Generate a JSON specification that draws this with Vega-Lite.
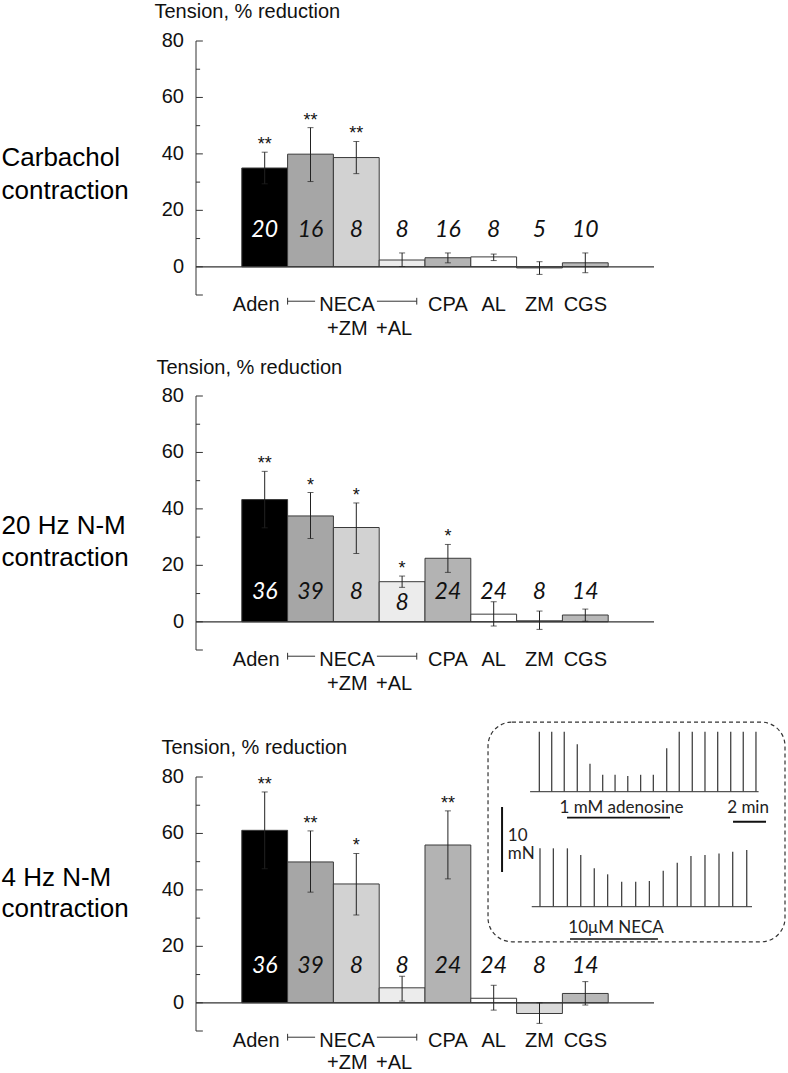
{
  "$schema": "https://vega.github.io/schema/vega-lite/v6.json",
  "autosize": {"type": "none"},
  "padding": {"left": 196, "top": 41, "right": 592, "bottom": 1032},
  "background": "white",
  "config": {"view": {"stroke": null}, "font": "Liberation Sans", "legend": {"disable": true}},
  "datasets": {
    "p1": [
      {"cat": "Aden", "mean": 35.0, "lo": 29.4, "hi": 40.6, "n": "20", "sig": "**"},
      {"cat": "NECA", "mean": 39.9, "lo": 30.2, "hi": 49.3, "n": "16", "sig": "**"},
      {"cat": "NECA+ZM", "mean": 38.7, "lo": 33.0, "hi": 44.4, "n": "8", "sig": "**"},
      {"cat": "NECA+AL", "mean": 2.4, "lo": 0.1, "hi": 4.9, "n": "8", "sig": ""},
      {"cat": "CPA", "mean": 3.2, "lo": 1.4, "hi": 4.9, "n": "16", "sig": ""},
      {"cat": "AL", "mean": 3.5, "lo": 2.2, "hi": 4.5, "n": "8", "sig": ""},
      {"cat": "ZM", "mean": -0.4, "lo": -2.7, "hi": 1.8, "n": "5", "sig": ""},
      {"cat": "CGS", "mean": 1.4, "lo": -2.1, "hi": 4.9, "n": "10", "sig": ""}
    ],
    "p2": [
      {"cat": "Aden", "mean": 43.3, "lo": 33.3, "hi": 53.3, "n": "36", "sig": "**"},
      {"cat": "NECA", "mean": 37.5, "lo": 29.5, "hi": 45.8, "n": "39", "sig": "*"},
      {"cat": "NECA+ZM", "mean": 33.4, "lo": 24.2, "hi": 42.1, "n": "8", "sig": "*"},
      {"cat": "NECA+AL", "mean": 14.2, "lo": 12.2, "hi": 16.2, "n": "8", "sig": "*"},
      {"cat": "CPA", "mean": 22.5, "lo": 17.5, "hi": 27.4, "n": "24", "sig": "*"},
      {"cat": "AL", "mean": 2.7, "lo": -1.5, "hi": 7.1, "n": "24", "sig": ""},
      {"cat": "ZM", "mean": 0.35, "lo": -2.7, "hi": 3.8, "n": "8", "sig": ""},
      {"cat": "CGS", "mean": 2.4, "lo": 0.2, "hi": 4.5, "n": "14", "sig": ""}
    ],
    "p3": [
      {"cat": "Aden", "mean": 61.1, "lo": 47.5, "hi": 74.7, "n": "36", "sig": "**"},
      {"cat": "NECA", "mean": 49.9, "lo": 39.2, "hi": 60.9, "n": "39", "sig": "**"},
      {"cat": "NECA+ZM", "mean": 42.1, "lo": 31.1, "hi": 52.9, "n": "8", "sig": "*"},
      {"cat": "NECA+AL", "mean": 5.3, "lo": 0.6, "hi": 9.4, "n": "8", "sig": ""},
      {"cat": "CPA", "mean": 55.9, "lo": 43.9, "hi": 68.0, "n": "24", "sig": "**"},
      {"cat": "AL", "mean": 1.6, "lo": -2.6, "hi": 6.2, "n": "24", "sig": ""},
      {"cat": "ZM", "mean": -3.8, "lo": -7.3, "hi": 0.0, "n": "8", "sig": ""},
      {"cat": "CGS", "mean": 3.3, "lo": -0.8, "hi": 7.5, "n": "14", "sig": ""}
    ],
    "major": [{"v": -10}, {"v": 0}, {"v": 20}, {"v": 40}, {"v": 60}, {"v": 80}],
    "minor": [{"v": 10}, {"v": 30}, {"v": 50}, {"v": 70}],
    "yline": [{"a": -10, "b": 80}],
    "spikes": [
      {"t": 3.11, "lo": 17.69, "hi": 26.9}, {"t": 3.86, "lo": 17.69, "hi": 26.9}, {"t": 4.62, "lo": 17.69, "hi": 26.9},
      {"t": 5.41, "lo": 17.69, "hi": 24.99}, {"t": 6.18, "lo": 17.69, "hi": 21.99}, {"t": 6.95, "lo": 17.69, "hi": 20.29},
      {"t": 7.70, "lo": 17.69, "hi": 20.29}, {"t": 8.47, "lo": 17.69, "hi": 20.09}, {"t": 9.25, "lo": 17.69, "hi": 20.29},
      {"t": 10.02, "lo": 17.69, "hi": 20.29}, {"t": 10.83, "lo": 17.69, "hi": 24.39}, {"t": 11.59, "lo": 17.69, "hi": 26.9},
      {"t": 12.38, "lo": 17.69, "hi": 26.9}, {"t": 13.15, "lo": 17.69, "hi": 26.9}, {"t": 13.92, "lo": 17.69, "hi": 26.9},
      {"t": 14.71, "lo": 17.69, "hi": 26.9}, {"t": 15.47, "lo": 17.69, "hi": 26.9}, {"t": 16.24, "lo": 17.69, "hi": 26.9},
      {"t": 3.15, "lo": 0, "hi": 8.98}, {"t": 3.96, "lo": 0, "hi": 8.98}, {"t": 4.81, "lo": 0, "hi": 8.98},
      {"t": 5.62, "lo": 0, "hi": 7.95}, {"t": 6.44, "lo": 0, "hi": 5.9}, {"t": 7.25, "lo": 0, "hi": 4.98},
      {"t": 8.10, "lo": 0, "hi": 3.85}, {"t": 8.95, "lo": 0, "hi": 3.85}, {"t": 9.78, "lo": 0, "hi": 3.95},
      {"t": 10.62, "lo": 0, "hi": 5.54}, {"t": 11.47, "lo": 0, "hi": 6.77}, {"t": 12.30, "lo": 0, "hi": 7.8},
      {"t": 13.15, "lo": 0, "hi": 7.95}, {"t": 14.0, "lo": 0, "hi": 8.2}, {"t": 14.83, "lo": 0, "hi": 8.46},
      {"t": 15.68, "lo": 0, "hi": 8.72}
    ],
    "baselines": [
      {"x1": 2.55, "x2": 16.4, "y1": 17.69, "y2": 17.69},
      {"x1": 2.65, "x2": 16.0, "y1": 0, "y2": 0}
    ],
    "scalebars": [
      {"x1": 0.85, "x2": 0.85, "y1": 5.34, "y2": 15.34},
      {"x1": 14.85, "x2": 16.85, "y1": 13.05, "y2": 13.05}
    ],
    "underlines": [
      {"x1": 4.79, "x2": 11.03, "y1": 13.7, "y2": 13.7},
      {"x1": 4.97, "x2": 10.3, "y1": -4.97, "y2": -4.97}
    ],
    "insettext_c": [
      {"t": 8.09, "y": 15.2, "s": "1 mM adenosine"},
      {"t": 15.76, "y": 15.2, "s": "2 min"},
      {"t": 7.76, "y": -3.28, "s": "10μM NECA"}
    ],
    "insettext_l": [
      {"t": 1.2, "y": 10.9, "s": "10"},
      {"t": 1.2, "y": 8.1, "s": "mN"}
    ],
    "box": [{"x1": 0, "x2": 18, "y1": -5.4, "y2": 28.4}]
  },
  "bounds": "flush",
  "spacing": 0,
  "vconcat": [
    {
      "width": 458, "height": 254,
      "data": {"name": "p1"},
      "resolve": {"axis": {"x": "independent"}},
      "encoding": {
        "x": {"field": "cat", "type": "nominal",
          "scale": {"type": "band", "domain": ["s0","Aden","NECA","NECA+ZM","NECA+AL","CPA","AL","ZM","CGS","s9"], "paddingInner": 0, "paddingOuter": 0},
          "axis": null},
        "y": {"field": "mean", "type": "quantitative",
          "scale": {"domain": [-10, 80], "nice": false, "zero": false},
          "axis": null}
      },
      "layer": [
        {"mark": {"type": "bar", "stroke": "#3a3a3a", "strokeWidth": 1},
         "encoding": {
           "x": {"field": "cat", "type": "nominal",
             "scale": {"type": "band", "domain": ["s0","Aden","NECA","NECA+ZM","NECA+AL","CPA","AL","ZM","CGS","s9"], "paddingInner": 0, "paddingOuter": 0},
             "axis": {"orient": "bottom", "title": "contraction", "domain": false, "ticks": false, "labels": false, "grid": false, "titleAngle": 0, "titleAlign": "left", "titleBaseline": "alphabetic", "titleX": -195, "titleY": -97, "titleFontSize": 26, "titleFontWeight": "normal", "titleColor": "#000", "titleFont": "Liberation Sans"}},
           "y2": {"datum": 0},
           "fill": {"field": "cat", "type": "nominal", "legend": null, "scale": {"domain": ["Aden","NECA","NECA+ZM","NECA+AL","CPA","AL","ZM","CGS"], "range": ["#000000","#a6a6a6","#d2d2d2","#ececec","#b3b3b3","#ffffff","#dadada","#b8b8b8"]}}}},
        {"data": {"values": [{"z": 0}]}, "mark": {"type": "rule", "color": "#333", "strokeWidth": 1.2},
         "encoding": {"x": {"datum": "s0", "bandPosition": 0, "axis": {"orient": "top", "title": "Carbachol", "domain": false, "ticks": false, "labels": false, "grid": false, "titleAngle": 0, "titleAlign": "left", "titleBaseline": "alphabetic", "titleX": -195, "titleY": 124, "titleFontSize": 26, "titleFontWeight": "normal", "titleColor": "#000", "titleFont": "Liberation Sans"}}, "x2": {"datum": "s9", "bandPosition": 1}, "y": {"field": "z", "type": "quantitative", "axis": null}}},
        {"data": {"name": "yline"}, "mark": {"type": "rule", "color": "#333", "strokeWidth": 1},
         "encoding": {"x": {"datum": "s0", "bandPosition": 0, "axis": null}, "y": {"field": "a", "type": "quantitative", "axis": null}, "y2": {"field": "b"}}},
        {"data": {"name": "major"}, "mark": {"type": "rule", "color": "#333", "strokeWidth": 1},
         "encoding": {"x": {"datum": "s0", "bandPosition": 0, "axis": {"orient": "top", "title": "Tension, % reduction", "domain": false, "ticks": false, "labels": false, "grid": false, "titleAngle": 0, "titleAlign": "left", "titleBaseline": "alphabetic", "titleX": -42, "titleY": -24, "titleFontSize": 20, "titleFontWeight": "normal", "titleColor": "#111", "titleFont": "Liberation Sans"}}, "x2": {"datum": "s0", "bandPosition": 0.15}, "y": {"field": "v", "type": "quantitative", "axis": null}}},
        {"data": {"name": "major"}, "transform": [{"filter": "datum.v >= 0"}], "mark": {"type": "text", "fontSize": 20, "font": "Liberation Sans", "align": "right", "baseline": "middle", "dx": -12, "color": "#111"},
         "encoding": {"x": {"datum": "s0", "bandPosition": 0, "axis": null}, "y": {"field": "v", "type": "quantitative", "axis": null}, "text": {"field": "v"}}},
        {"data": {"name": "minor"}, "mark": {"type": "rule", "color": "#333", "strokeWidth": 1},
         "encoding": {"x": {"datum": "s0", "bandPosition": 0, "axis": null}, "x2": {"datum": "s0", "bandPosition": 0.09}, "y": {"field": "v", "type": "quantitative", "axis": null}}},
        {"mark": {"type": "rule", "color": "#222", "strokeWidth": 1},
         "encoding": {"y": {"field": "lo", "type": "quantitative", "axis": null}, "y2": {"field": "hi"}}},
        {"mark": {"type": "tick", "color": "#222", "thickness": 1, "size": 6},
         "encoding": {"y": {"field": "hi", "type": "quantitative", "axis": null}}},
        {"mark": {"type": "tick", "color": "#222", "thickness": 1, "size": 6},
         "encoding": {"y": {"field": "lo", "type": "quantitative", "axis": null}}},
        {"transform": [{"filter": "datum.sig != ''"}],
         "mark": {"type": "text", "fontSize": 18, "font": "Liberation Sans", "baseline": "alphabetic", "dy": -2, "color": "#111"},
         "encoding": {"y": {"field": "hi", "type": "quantitative", "axis": null}, "text": {"field": "sig"}}},
        {"mark": {"type": "text", "font": "Lato", "fontStyle": "italic", "fontSize": 23, "baseline": "middle"},
         "encoding": {"y": {"datum": 13.2, "axis": null}, "text": {"field": "n"},
           "color": {"condition": {"test": "datum.cat == 'Aden'", "value": "#ffffff"}, "value": "#111111"}}},
        {"transform": [{"filter": "datum.cat == 'Aden'"}], "mark": {"type": "text", "fontSize": 20, "font": "Liberation Sans", "baseline": "alphabetic", "dx": -8.5, "color": "#111"},
         "encoding": {"y": {"datum": -15.8, "axis": null}, "text": {"field": "cat"}}},
        {"transform": [{"filter": "datum.cat == 'NECA'"}], "mark": {"type": "text", "fontSize": 20, "font": "Liberation Sans", "baseline": "alphabetic", "dx": 36.5, "color": "#111"},
         "encoding": {"y": {"datum": -15.8, "axis": null}, "text": {"field": "cat"}}},
        {"transform": [{"filter": "indexof(['CPA','AL','ZM','CGS'], datum.cat) >= 0"}], "mark": {"type": "text", "fontSize": 20, "font": "Liberation Sans", "baseline": "alphabetic", "color": "#111"},
         "encoding": {"y": {"datum": -15.8, "axis": null}, "text": {"field": "cat"}}},
        {"transform": [{"filter": "datum.cat == 'NECA+ZM'"}], "mark": {"type": "text", "fontSize": 20, "font": "Liberation Sans", "baseline": "alphabetic", "dx": -9, "color": "#111"},
         "encoding": {"y": {"datum": -24, "axis": null}, "text": {"value": "+ZM"}}},
        {"transform": [{"filter": "datum.cat == 'NECA+AL'"}], "mark": {"type": "text", "fontSize": 20, "font": "Liberation Sans", "baseline": "alphabetic", "dx": -8, "color": "#111"},
         "encoding": {"y": {"datum": -24, "axis": null}, "text": {"value": "+AL"}}},
        {"data": {"values": [{"z": -12.2}]}, "mark": {"type": "rule", "color": "#333", "strokeWidth": 1},
         "encoding": {"x": {"datum": "NECA", "bandPosition": 0, "axis": null}, "x2": {"datum": "NECA", "bandPosition": 0.6}, "y": {"field": "z", "type": "quantitative", "axis": null}}},
        {"data": {"values": [{"z": -12.2}]}, "mark": {"type": "rule", "color": "#333", "strokeWidth": 1},
         "encoding": {"x": {"datum": "NECA+ZM", "bandPosition": 0.95, "axis": null}, "x2": {"datum": "NECA+AL", "bandPosition": 0.82}, "y": {"field": "z", "type": "quantitative", "axis": null}}},
        {"data": {"values": [{"a": -11, "b": -13.4}]}, "mark": {"type": "rule", "color": "#333", "strokeWidth": 1},
         "encoding": {"x": {"datum": "NECA", "bandPosition": 0, "axis": null}, "y": {"field": "a", "type": "quantitative", "axis": null}, "y2": {"field": "b"}}},
        {"data": {"values": [{"a": -11, "b": -13.4}]}, "mark": {"type": "rule", "color": "#333", "strokeWidth": 1},
         "encoding": {"x": {"datum": "NECA+AL", "bandPosition": 0.82, "axis": null}, "y": {"field": "a", "type": "quantitative", "axis": null}, "y2": {"field": "b"}}}
      ]
    },
    {"width": 10, "height": 101, "data": {"values": []}, "mark": "point"},
    {
      "width": 458, "height": 254,
      "data": {"name": "p2"},
      "resolve": {"axis": {"x": "independent"}},
      "encoding": {
        "x": {"field": "cat", "type": "nominal",
          "scale": {"type": "band", "domain": ["s0","Aden","NECA","NECA+ZM","NECA+AL","CPA","AL","ZM","CGS","s9"], "paddingInner": 0, "paddingOuter": 0},
          "axis": null},
        "y": {"field": "mean", "type": "quantitative",
          "scale": {"domain": [-10, 80], "nice": false, "zero": false},
          "axis": null}
      },
      "layer": [
        {"mark": {"type": "bar", "stroke": "#3a3a3a", "strokeWidth": 1},
         "encoding": {
           "x": {"field": "cat", "type": "nominal",
             "scale": {"type": "band", "domain": ["s0","Aden","NECA","NECA+ZM","NECA+AL","CPA","AL","ZM","CGS","s9"], "paddingInner": 0, "paddingOuter": 0},
             "axis": {"orient": "bottom", "title": "contraction", "domain": false, "ticks": false, "labels": false, "grid": false, "titleAngle": 0, "titleAlign": "left", "titleBaseline": "alphabetic", "titleX": -195, "titleY": -85, "titleFontSize": 26, "titleFontWeight": "normal", "titleColor": "#000", "titleFont": "Liberation Sans"}},
           "y2": {"datum": 0},
           "fill": {"field": "cat", "type": "nominal", "legend": null, "scale": {"domain": ["Aden","NECA","NECA+ZM","NECA+AL","CPA","AL","ZM","CGS"], "range": ["#000000","#a6a6a6","#d2d2d2","#ececec","#b3b3b3","#ffffff","#f4f4f4","#b8b8b8"]}}}},
        {"data": {"values": [{"z": 0}]}, "mark": {"type": "rule", "color": "#333", "strokeWidth": 1.2},
         "encoding": {"x": {"datum": "s0", "bandPosition": 0, "axis": {"orient": "top", "title": "20 Hz N-M", "domain": false, "ticks": false, "labels": false, "grid": false, "titleAngle": 0, "titleAlign": "left", "titleBaseline": "alphabetic", "titleX": -195, "titleY": 137, "titleFontSize": 26, "titleFontWeight": "normal", "titleColor": "#000", "titleFont": "Liberation Sans"}}, "x2": {"datum": "s9", "bandPosition": 1}, "y": {"field": "z", "type": "quantitative", "axis": null}}},
        {"data": {"name": "yline"}, "mark": {"type": "rule", "color": "#333", "strokeWidth": 1},
         "encoding": {"x": {"datum": "s0", "bandPosition": 0, "axis": null}, "y": {"field": "a", "type": "quantitative", "axis": null}, "y2": {"field": "b"}}},
        {"data": {"name": "major"}, "mark": {"type": "rule", "color": "#333", "strokeWidth": 1},
         "encoding": {"x": {"datum": "s0", "bandPosition": 0, "axis": {"orient": "top", "title": "Tension, % reduction", "domain": false, "ticks": false, "labels": false, "grid": false, "titleAngle": 0, "titleAlign": "left", "titleBaseline": "alphabetic", "titleX": -40, "titleY": -23, "titleFontSize": 20, "titleFontWeight": "normal", "titleColor": "#111", "titleFont": "Liberation Sans"}}, "x2": {"datum": "s0", "bandPosition": 0.15}, "y": {"field": "v", "type": "quantitative", "axis": null}}},
        {"data": {"name": "major"}, "transform": [{"filter": "datum.v >= 0"}], "mark": {"type": "text", "fontSize": 20, "font": "Liberation Sans", "align": "right", "baseline": "middle", "dx": -12, "color": "#111"},
         "encoding": {"x": {"datum": "s0", "bandPosition": 0, "axis": null}, "y": {"field": "v", "type": "quantitative", "axis": null}, "text": {"field": "v"}}},
        {"data": {"name": "minor"}, "mark": {"type": "rule", "color": "#333", "strokeWidth": 1},
         "encoding": {"x": {"datum": "s0", "bandPosition": 0, "axis": null}, "x2": {"datum": "s0", "bandPosition": 0.09}, "y": {"field": "v", "type": "quantitative", "axis": null}}},
        {"mark": {"type": "rule", "color": "#222", "strokeWidth": 1},
         "encoding": {"y": {"field": "lo", "type": "quantitative", "axis": null}, "y2": {"field": "hi"}}},
        {"mark": {"type": "tick", "color": "#222", "thickness": 1, "size": 6},
         "encoding": {"y": {"field": "hi", "type": "quantitative", "axis": null}}},
        {"mark": {"type": "tick", "color": "#222", "thickness": 1, "size": 6},
         "encoding": {"y": {"field": "lo", "type": "quantitative", "axis": null}}},
        {"transform": [{"filter": "datum.sig != ''"}],
         "mark": {"type": "text", "fontSize": 18, "font": "Liberation Sans", "baseline": "alphabetic", "dy": -2, "color": "#111"},
         "encoding": {"y": {"field": "hi", "type": "quantitative", "axis": null}, "text": {"field": "sig"}}},
        {"transform": [{"filter": "datum.cat != 'NECA+AL'"}],
         "mark": {"type": "text", "font": "Lato", "fontStyle": "italic", "fontSize": 23, "baseline": "middle"},
         "encoding": {"y": {"datum": 10.6, "axis": null}, "text": {"field": "n"},
           "color": {"condition": {"test": "datum.cat == 'Aden'", "value": "#ffffff"}, "value": "#111111"}}},
        {"transform": [{"filter": "datum.cat == 'NECA+AL'"}],
         "mark": {"type": "text", "font": "Lato", "fontStyle": "italic", "fontSize": 23, "baseline": "middle", "color": "#111111"},
         "encoding": {"y": {"datum": 6.5, "axis": null}, "text": {"field": "n"}}},
        {"transform": [{"filter": "datum.cat == 'Aden'"}], "mark": {"type": "text", "fontSize": 20, "font": "Liberation Sans", "baseline": "alphabetic", "dx": -8.5, "color": "#111"},
         "encoding": {"y": {"datum": -15.8, "axis": null}, "text": {"field": "cat"}}},
        {"transform": [{"filter": "datum.cat == 'NECA'"}], "mark": {"type": "text", "fontSize": 20, "font": "Liberation Sans", "baseline": "alphabetic", "dx": 36.5, "color": "#111"},
         "encoding": {"y": {"datum": -15.8, "axis": null}, "text": {"field": "cat"}}},
        {"transform": [{"filter": "indexof(['CPA','AL','ZM','CGS'], datum.cat) >= 0"}], "mark": {"type": "text", "fontSize": 20, "font": "Liberation Sans", "baseline": "alphabetic", "color": "#111"},
         "encoding": {"y": {"datum": -15.8, "axis": null}, "text": {"field": "cat"}}},
        {"transform": [{"filter": "datum.cat == 'NECA+ZM'"}], "mark": {"type": "text", "fontSize": 20, "font": "Liberation Sans", "baseline": "alphabetic", "dx": -9, "color": "#111"},
         "encoding": {"y": {"datum": -24, "axis": null}, "text": {"value": "+ZM"}}},
        {"transform": [{"filter": "datum.cat == 'NECA+AL'"}], "mark": {"type": "text", "fontSize": 20, "font": "Liberation Sans", "baseline": "alphabetic", "dx": -8, "color": "#111"},
         "encoding": {"y": {"datum": -24, "axis": null}, "text": {"value": "+AL"}}},
        {"data": {"values": [{"z": -12.2}]}, "mark": {"type": "rule", "color": "#333", "strokeWidth": 1},
         "encoding": {"x": {"datum": "NECA", "bandPosition": 0, "axis": null}, "x2": {"datum": "NECA", "bandPosition": 0.6}, "y": {"field": "z", "type": "quantitative", "axis": null}}},
        {"data": {"values": [{"z": -12.2}]}, "mark": {"type": "rule", "color": "#333", "strokeWidth": 1},
         "encoding": {"x": {"datum": "NECA+ZM", "bandPosition": 0.95, "axis": null}, "x2": {"datum": "NECA+AL", "bandPosition": 0.82}, "y": {"field": "z", "type": "quantitative", "axis": null}}},
        {"data": {"values": [{"a": -11, "b": -13.4}]}, "mark": {"type": "rule", "color": "#333", "strokeWidth": 1},
         "encoding": {"x": {"datum": "NECA", "bandPosition": 0, "axis": null}, "y": {"field": "a", "type": "quantitative", "axis": null}, "y2": {"field": "b"}}},
        {"data": {"values": [{"a": -11, "b": -13.4}]}, "mark": {"type": "rule", "color": "#333", "strokeWidth": 1},
         "encoding": {"x": {"datum": "NECA+AL", "bandPosition": 0.82, "axis": null}, "y": {"field": "a", "type": "quantitative", "axis": null}, "y2": {"field": "b"}}}
      ]
    },
    {"width": 10, "height": 127, "data": {"values": []}, "mark": "point"},
    {
      "width": 458, "height": 254,
      "resolve": {"scale": {"x": "independent", "y": "independent"}, "axis": {"x": "independent", "y": "independent"}},
      "layer": [
        {
          "data": {"name": "p3"},
          "resolve": {"axis": {"x": "independent"}},
          "encoding": {
            "x": {"field": "cat", "type": "nominal",
              "scale": {"type": "band", "domain": ["s0","Aden","NECA","NECA+ZM","NECA+AL","CPA","AL","ZM","CGS","s9"], "paddingInner": 0, "paddingOuter": 0},
              "axis": null},
            "y": {"field": "mean", "type": "quantitative",
              "scale": {"domain": [-10, 80], "nice": false, "zero": false},
              "axis": null}
          },
          "layer": [
            {"mark": {"type": "bar", "stroke": "#3a3a3a", "strokeWidth": 1},
             "encoding": {
               "x": {"field": "cat", "type": "nominal",
                 "scale": {"type": "band", "domain": ["s0","Aden","NECA","NECA+ZM","NECA+AL","CPA","AL","ZM","CGS","s9"], "paddingInner": 0, "paddingOuter": 0},
                 "axis": {"orient": "bottom", "title": "contraction", "domain": false, "ticks": false, "labels": false, "grid": false, "titleAngle": 0, "titleAlign": "left", "titleBaseline": "alphabetic", "titleX": -195, "titleY": -115, "titleFontSize": 26, "titleFontWeight": "normal", "titleColor": "#000", "titleFont": "Liberation Sans"}},
               "y2": {"datum": 0},
               "fill": {"field": "cat", "type": "nominal", "legend": null, "scale": {"domain": ["Aden","NECA","NECA+ZM","NECA+AL","CPA","AL","ZM","CGS"], "range": ["#000000","#a6a6a6","#d2d2d2","#ececec","#b3b3b3","#ffffff","#dadada","#b8b8b8"]}}}},
            {"data": {"values": [{"z": 0}]}, "mark": {"type": "rule", "color": "#333", "strokeWidth": 1.2},
             "encoding": {"x": {"datum": "s0", "bandPosition": 0, "axis": {"orient": "top", "title": "4 Hz N-M", "domain": false, "ticks": false, "labels": false, "grid": false, "titleAngle": 0, "titleAlign": "left", "titleBaseline": "alphabetic", "titleX": -195, "titleY": 108, "titleFontSize": 26, "titleFontWeight": "normal", "titleColor": "#000", "titleFont": "Liberation Sans"}}, "x2": {"datum": "s9", "bandPosition": 1}, "y": {"field": "z", "type": "quantitative", "axis": null}}},
            {"data": {"name": "yline"}, "mark": {"type": "rule", "color": "#333", "strokeWidth": 1},
             "encoding": {"x": {"datum": "s0", "bandPosition": 0, "axis": null}, "y": {"field": "a", "type": "quantitative", "axis": null}, "y2": {"field": "b"}}},
            {"data": {"name": "major"}, "mark": {"type": "rule", "color": "#333", "strokeWidth": 1},
             "encoding": {"x": {"datum": "s0", "bandPosition": 0, "axis": {"orient": "top", "title": "Tension, % reduction", "domain": false, "ticks": false, "labels": false, "grid": false, "titleAngle": 0, "titleAlign": "left", "titleBaseline": "alphabetic", "titleX": -35, "titleY": -24, "titleFontSize": 20, "titleFontWeight": "normal", "titleColor": "#111", "titleFont": "Liberation Sans"}}, "x2": {"datum": "s0", "bandPosition": 0.15}, "y": {"field": "v", "type": "quantitative", "axis": null}}},
            {"data": {"name": "major"}, "transform": [{"filter": "datum.v >= 0"}], "mark": {"type": "text", "fontSize": 20, "font": "Liberation Sans", "align": "right", "baseline": "middle", "dx": -12, "color": "#111"},
             "encoding": {"x": {"datum": "s0", "bandPosition": 0, "axis": null}, "y": {"field": "v", "type": "quantitative", "axis": null}, "text": {"field": "v"}}},
            {"data": {"name": "minor"}, "mark": {"type": "rule", "color": "#333", "strokeWidth": 1},
             "encoding": {"x": {"datum": "s0", "bandPosition": 0, "axis": null}, "x2": {"datum": "s0", "bandPosition": 0.09}, "y": {"field": "v", "type": "quantitative", "axis": null}}},
            {"mark": {"type": "rule", "color": "#222", "strokeWidth": 1},
             "encoding": {"y": {"field": "lo", "type": "quantitative", "axis": null}, "y2": {"field": "hi"}}},
            {"mark": {"type": "tick", "color": "#222", "thickness": 1, "size": 6},
             "encoding": {"y": {"field": "hi", "type": "quantitative", "axis": null}}},
            {"mark": {"type": "tick", "color": "#222", "thickness": 1, "size": 6},
             "encoding": {"y": {"field": "lo", "type": "quantitative", "axis": null}}},
            {"transform": [{"filter": "datum.sig != ''"}],
             "mark": {"type": "text", "fontSize": 18, "font": "Liberation Sans", "baseline": "alphabetic", "dy": -2, "color": "#111"},
             "encoding": {"y": {"field": "hi", "type": "quantitative", "axis": null}, "text": {"field": "sig"}}},
            {"mark": {"type": "text", "font": "Lato", "fontStyle": "italic", "fontSize": 23, "baseline": "middle"},
             "encoding": {"y": {"datum": 12.9, "axis": null}, "text": {"field": "n"},
               "color": {"condition": {"test": "datum.cat == 'Aden'", "value": "#ffffff"}, "value": "#111111"}}},
            {"transform": [{"filter": "datum.cat == 'Aden'"}], "mark": {"type": "text", "fontSize": 20, "font": "Liberation Sans", "baseline": "alphabetic", "dx": -8.5, "color": "#111"},
             "encoding": {"y": {"datum": -15.8, "axis": null}, "text": {"field": "cat"}}},
            {"transform": [{"filter": "datum.cat == 'NECA'"}], "mark": {"type": "text", "fontSize": 20, "font": "Liberation Sans", "baseline": "alphabetic", "dx": 36.5, "color": "#111"},
             "encoding": {"y": {"datum": -15.8, "axis": null}, "text": {"field": "cat"}}},
            {"transform": [{"filter": "indexof(['CPA','AL','ZM','CGS'], datum.cat) >= 0"}], "mark": {"type": "text", "fontSize": 20, "font": "Liberation Sans", "baseline": "alphabetic", "color": "#111"},
             "encoding": {"y": {"datum": -15.8, "axis": null}, "text": {"field": "cat"}}},
            {"transform": [{"filter": "datum.cat == 'NECA+ZM'"}], "mark": {"type": "text", "fontSize": 20, "font": "Liberation Sans", "baseline": "alphabetic", "dx": -9, "color": "#111"},
             "encoding": {"y": {"datum": -23.4, "axis": null}, "text": {"value": "+ZM"}}},
            {"transform": [{"filter": "datum.cat == 'NECA+AL'"}], "mark": {"type": "text", "fontSize": 20, "font": "Liberation Sans", "baseline": "alphabetic", "dx": -8, "color": "#111"},
             "encoding": {"y": {"datum": -23.4, "axis": null}, "text": {"value": "+AL"}}},
            {"data": {"values": [{"z": -12.2}]}, "mark": {"type": "rule", "color": "#333", "strokeWidth": 1},
             "encoding": {"x": {"datum": "NECA", "bandPosition": 0, "axis": null}, "x2": {"datum": "NECA", "bandPosition": 0.6}, "y": {"field": "z", "type": "quantitative", "axis": null}}},
            {"data": {"values": [{"z": -12.2}]}, "mark": {"type": "rule", "color": "#333", "strokeWidth": 1},
             "encoding": {"x": {"datum": "NECA+ZM", "bandPosition": 0.95, "axis": null}, "x2": {"datum": "NECA+AL", "bandPosition": 0.82}, "y": {"field": "z", "type": "quantitative", "axis": null}}},
            {"data": {"values": [{"a": -11, "b": -13.4}]}, "mark": {"type": "rule", "color": "#333", "strokeWidth": 1},
             "encoding": {"x": {"datum": "NECA", "bandPosition": 0, "axis": null}, "y": {"field": "a", "type": "quantitative", "axis": null}, "y2": {"field": "b"}}},
            {"data": {"values": [{"a": -11, "b": -13.4}]}, "mark": {"type": "rule", "color": "#333", "strokeWidth": 1},
             "encoding": {"x": {"datum": "NECA+AL", "bandPosition": 0.82, "axis": null}, "y": {"field": "a", "type": "quantitative", "axis": null}, "y2": {"field": "b"}}}
          ]
        },
        {
          "layer": [
            {"data": {"name": "box"}, "mark": {"type": "rect", "fill": null, "stroke": "#333", "strokeWidth": 1.2, "strokeDash": [4, 3], "cornerRadius": 24},
             "encoding": {
               "x": {"field": "x1", "type": "quantitative", "scale": {"domain": [-17.7, 10.06], "nice": false, "zero": false}, "axis": null},
               "x2": {"field": "x2"},
               "y": {"field": "y1", "type": "quantitative", "scale": {"domain": [-19.12, 19.95], "nice": false, "zero": false}, "axis": null},
               "y2": {"field": "y2"}}},
            {"data": {"name": "baselines"}, "mark": {"type": "rule", "color": "#555", "strokeWidth": 1.2},
             "encoding": {
               "x": {"field": "x1", "type": "quantitative", "scale": {"domain": [-17.7, 10.06], "nice": false, "zero": false}, "axis": null},
               "x2": {"field": "x2"},
               "y": {"field": "y1", "type": "quantitative", "scale": {"domain": [-19.12, 19.95], "nice": false, "zero": false}, "axis": null},
               "y2": {"field": "y2"}}},
            {"data": {"name": "spikes"}, "mark": {"type": "rule", "color": "#444", "strokeWidth": 1.3},
             "encoding": {
               "x": {"field": "t", "type": "quantitative", "scale": {"domain": [-17.7, 10.06], "nice": false, "zero": false}, "axis": null},
               "y": {"field": "lo", "type": "quantitative", "scale": {"domain": [-19.12, 19.95], "nice": false, "zero": false}, "axis": null},
               "y2": {"field": "hi"}}},
            {"data": {"name": "scalebars"}, "mark": {"type": "rule", "color": "#111", "strokeWidth": 2},
             "encoding": {
               "x": {"field": "x1", "type": "quantitative", "scale": {"domain": [-17.7, 10.06], "nice": false, "zero": false}, "axis": null},
               "x2": {"field": "x2"},
               "y": {"field": "y1", "type": "quantitative", "scale": {"domain": [-19.12, 19.95], "nice": false, "zero": false}, "axis": null},
               "y2": {"field": "y2"}}},
            {"data": {"name": "underlines"}, "mark": {"type": "rule", "color": "#111", "strokeWidth": 1.6},
             "encoding": {
               "x": {"field": "x1", "type": "quantitative", "scale": {"domain": [-17.7, 10.06], "nice": false, "zero": false}, "axis": null},
               "x2": {"field": "x2"},
               "y": {"field": "y1", "type": "quantitative", "scale": {"domain": [-19.12, 19.95], "nice": false, "zero": false}, "axis": null},
               "y2": {"field": "y2"}}},
            {"data": {"name": "insettext_c"}, "mark": {"type": "text", "font": "Lato", "fontSize": 17, "align": "center", "baseline": "middle", "color": "#222"},
             "encoding": {
               "x": {"field": "t", "type": "quantitative", "scale": {"domain": [-17.7, 10.06], "nice": false, "zero": false}, "axis": null},
               "y": {"field": "y", "type": "quantitative", "scale": {"domain": [-19.12, 19.95], "nice": false, "zero": false}, "axis": null},
               "text": {"field": "s"}}},
            {"data": {"name": "insettext_l"}, "mark": {"type": "text", "font": "Lato", "fontSize": 17, "align": "left", "baseline": "middle", "color": "#222"},
             "encoding": {
               "x": {"field": "t", "type": "quantitative", "scale": {"domain": [-17.7, 10.06], "nice": false, "zero": false}, "axis": null},
               "y": {"field": "y", "type": "quantitative", "scale": {"domain": [-19.12, 19.95], "nice": false, "zero": false}, "axis": null},
               "text": {"field": "s"}}}
          ]
        }
      ]
    }
  ]
}
